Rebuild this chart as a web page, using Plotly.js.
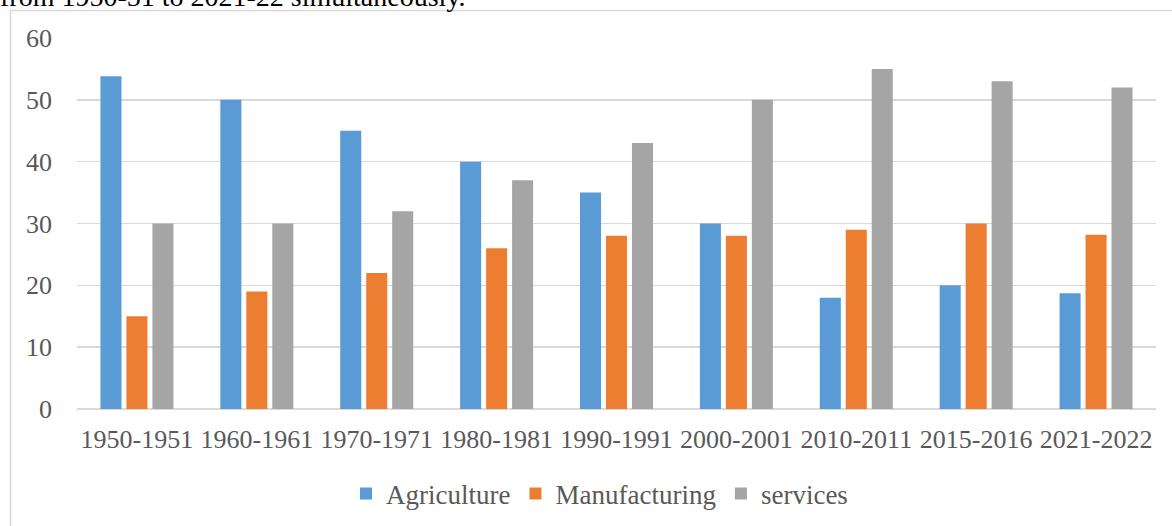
<!DOCTYPE html>
<html>
<head>
<meta charset="utf-8">
<script src="https://cdn.plot.ly/plotly-3.0.1.min.js"></script>
<style>
  html, body { margin: 0; padding: 0; background: #ffffff; }
  #chart { width: 1172px; height: 526px; }
</style>
</head>
<body>
<div id="chart"></div>
<script>
// Sector shares by period
const periods = ['1950-1951', '1960-1961', '1970-1971', '1980-1981', '1990-1991',
                 '2000-2001', '2010-2011', '2015-2016', '2021-2022'];
const agriculture   = [53.8, 50, 45, 40, 35, 30, 18, 20, 18.7];
const manufacturing = [15, 19, 22, 26, 28, 28, 29, 30, 28.2];
const services      = [30, 30, 32, 37, 43, 50, 55, 53, 52];
const yTicks = [0, 10, 20, 30, 40, 50, 60];

const FONT = 'Liberation Serif';
const W = 1172, H = 526;
const M = { l: 77, r: 16, t: 38, b: 117, autoexpand: false };
const pw = W - M.l - M.r, ph = H - M.t - M.b;
const px = x => (x - M.l) / pw;          // page pixel -> paper x
const py = y => (H - M.b - y) / ph;      // page pixel -> paper y

function series(name, values, color) {
  return { type: 'bar', name: name, x: periods, y: values,
           marker: { color: color, line: { width: 0 } }, hoverinfo: 'x+y+name' };
}

const data = [
  series('Agriculture', agriculture, '#5B9BD5'),
  series('Manufacturing', manufacturing, '#ED7D31'),
  series('services', services, '#A5A5A5')
];

const layout = {
  width: W, height: H,
  margin: M,
  paper_bgcolor: '#ffffff', plot_bgcolor: '#ffffff',
  font: { family: FONT, size: 26, color: '#595959' },
  barmode: 'group', bargap: 0.35, bargroupgap: 0.19,
  xaxis: {
    type: 'category', showgrid: false, showline: false, zeroline: false,
    ticks: '', ticklabelstandoff: 12, automargin: false,
    tickfont: { family: FONT, size: 26, color: '#595959' }
  },
  yaxis: {
    range: [0, 60], tickvals: yTicks, ticktext: yTicks.map(String),
    showgrid: true, gridcolor: '#D9D9D9', gridwidth: 1.5,
    zeroline: true, zerolinecolor: '#D9D9D9', zerolinewidth: 1.5,
    showline: false, ticks: '', ticklabelstandoff: 24, automargin: false,
    tickfont: { family: FONT, size: 26, color: '#595959' }
  },
  showlegend: true,
  legend: {
    orientation: 'h', x: px(346), xanchor: 'left', y: py(494), yanchor: 'middle',
    font: { family: FONT, size: 27, color: '#595959' },
    bgcolor: 'rgba(0,0,0,0)', borderwidth: 0
  },
  shapes: [{
    type: 'rect', xref: 'paper', yref: 'paper',
    x0: px(10.5), x1: px(1180), y0: py(540), y1: py(10.5),
    line: { color: '#D9D9D9', width: 1.5 }, fillcolor: 'rgba(0,0,0,0)', layer: 'below'
  }],
  annotations: [{
    xref: 'paper', yref: 'paper', x: px(0), y: py(14), xanchor: 'left', yanchor: 'bottom',
    xshift: -2, showarrow: false,
    text: 'from 1950-51 to 2021-22 simultaneously.',
    font: { family: FONT, size: 28, color: '#000000' }
  }]
};

Plotly.newPlot('chart', data, layout, { displayModeBar: false, staticPlot: true });
</script>
</body>
</html>
